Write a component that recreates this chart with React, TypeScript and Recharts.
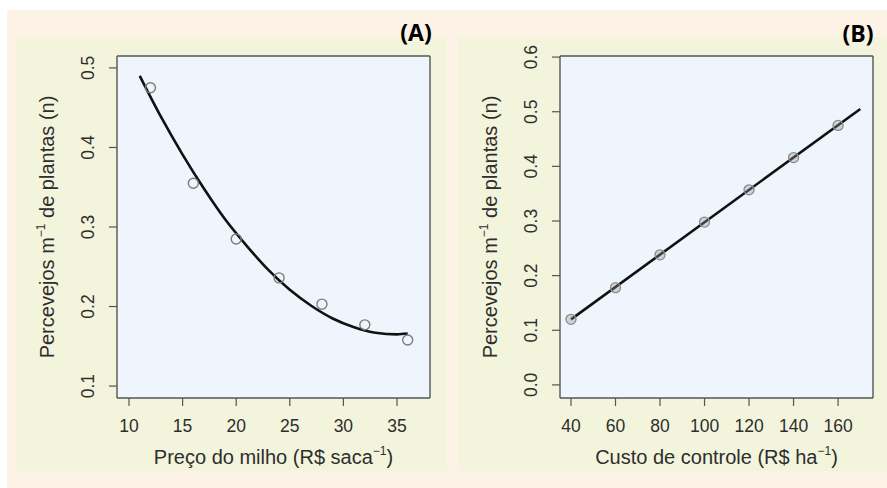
import React from "react";
import {
  ComposedChart,
  Line,
  Scatter,
  XAxis,
  YAxis,
  CartesianGrid,
} from "recharts";

// ---------- Panel A data ----------
const priceX = [12, 16, 20, 24, 28, 32, 36];
const priceObs = [0.475, 0.355, 0.285, 0.236, 0.203, 0.177, 0.158];
const priceFitX = [11, 13, 15, 17, 19, 21, 23, 25, 27, 29, 31, 33, 35, 36];
const priceFitY = [0.49, 0.438, 0.391, 0.348, 0.309, 0.276, 0.246, 0.221, 0.201, 0.185, 0.174, 0.167, 0.165, 0.166];
const priceTicksX = [10, 15, 20, 25, 30, 35];
const priceTicksY = [0.1, 0.2, 0.3, 0.4, 0.5];

// ---------- Panel B data ----------
const costX = [40, 60, 80, 100, 120, 140, 160];
const costObs = [0.12, 0.178, 0.238, 0.298, 0.357, 0.416, 0.475];
const costFitX = [40, 170];
const costFitY = [0.12, 0.505];
const costTicksX = [40, 60, 80, 100, 120, 140, 160];
const costTicksY = [0.0, 0.1, 0.2, 0.3, 0.4, 0.5, 0.6];

const obsA = priceX.map((x, i) => ({ x, y: priceObs[i] }));
const fitA = priceFitX.map((x, i) => ({ x, y: priceFitY[i] }));
const obsB = costX.map((x, i) => ({ x, y: costObs[i] }));
const fitB = costFitX.map((x, i) => ({ x, y: costFitY[i] }));

const FONT = "'Liberation Sans', Arial, Helvetica, sans-serif";
const TXT = "#2e2e2e";
const CH_H = 434;
const PL = 101; // plot left in chart coords
const PT = 19;
const PB = 361;

const XTick = (props: any) => (
  <text
    x={props.x}
    y={PB + 28}
    textAnchor="middle"
    dominantBaseline="central"
    fontFamily={FONT}
    fontSize={17.5}
    fill={TXT}
  >
    {String(props.payload.value)}
  </text>
);

const YTick = (props: any) => {
  const cx = PL - 29;
  return (
    <text
      x={cx}
      y={props.y}
      textAnchor="middle"
      dominantBaseline="central"
      fontFamily={FONT}
      fontSize={17.5}
      fill={TXT}
      transform={`rotate(-90 ${cx} ${props.y})`}
    >
      {Number(props.payload.value).toFixed(1)}
    </text>
  );
};

const OpenCircle = (props: any) => (
  <circle cx={props.cx} cy={props.cy} r={5} fill="none" stroke="#7c7c7c" strokeWidth={1.4} />
);
const GrayCircle = (props: any) => (
  <circle cx={props.cx} cy={props.cy} r={5} fill="rgba(150,150,150,0.35)" stroke="#8a8a8a" strokeWidth={1.3} />
);

type PanelProps = {
  left: number;
  width: number;
  xDomain: [number, number];
  yDomain: [number, number];
  xTicks: number[];
  yTicks: number[];
  obs: { x: number; y: number }[];
  fit: { x: number; y: number }[];
  smooth: boolean;
  shape: any;
};

const Panel = (p: PanelProps) => {
  const PR = 414;
  return (
    <div style={{ position: "absolute", left: p.left, top: 37, width: p.width, height: CH_H, background: "#f3f4dc" }}>
      <ComposedChart
        width={p.width}
        height={CH_H}
        margin={{ top: PT, right: p.width - PR, left: 0, bottom: 0 }}
      >
        <CartesianGrid
          fill="#eef5fc"
          fillOpacity={1}
          stroke="#555"
          strokeWidth={1.4}
          horizontalPoints={[PT, PB]}
          verticalPoints={[PL, PR]}
        />
        <XAxis
          type="number"
          dataKey="x"
          domain={p.xDomain}
          allowDataOverflow
          ticks={p.xTicks}
          tick={<XTick />}
          tickSize={8}
          tickLine={{ stroke: "#555", strokeWidth: 1.2 }}
          axisLine={false}
          height={CH_H - PB - 0}
          interval={0}
        />
        <YAxis
          type="number"
          dataKey="y"
          domain={p.yDomain}
          allowDataOverflow
          ticks={p.yTicks}
          tick={<YTick />}
          tickSize={8}
          tickLine={{ stroke: "#555", strokeWidth: 1.2 }}
          axisLine={false}
          width={PL}
          interval={0}
        />
        <Scatter data={p.obs} shape={p.shape} isAnimationActive={false} />
        <Line
          data={p.fit}
          dataKey="y"
          type={p.smooth ? "monotone" : "linear"}
          stroke="#111"
          strokeWidth={2.6}
          dot={false}
          activeDot={false}
          isAnimationActive={false}
        />
      </ComposedChart>
    </div>
  );
};

const Sup = ({ children }: { children: React.ReactNode }) => (
  <sup style={{ fontSize: "0.6em", verticalAlign: "0.75em", lineHeight: 0 }}>{children}</sup>
);

const textBase: React.CSSProperties = {
  position: "absolute",
  fontFamily: FONT,
  fontSize: 20,
  color: TXT,
  whiteSpace: "nowrap",
  lineHeight: 1,
};

export default function App() {
  return (
    <div style={{ position: "absolute", left: 0, top: 0, width: 887, height: 488, background: "#fff", overflow: "hidden" }}>
      <div style={{ position: "absolute", left: 7, top: 10, width: 880, height: 478, background: "#fcf3e6" }} />
      <Panel
        left={16}
        width={431}
        xDomain={[8.88, 38.08]}
        yDomain={[0.085, 0.515]}
        xTicks={priceTicksX}
        yTicks={priceTicksY}
        obs={obsA}
        fit={fitA}
        smooth
        shape={<OpenCircle />}
      />
      <Panel
        left={459}
        width={428}
        xDomain={[35.06, 175.7]}
        yDomain={[-0.024, 0.602]}
        xTicks={costTicksX}
        yTicks={costTicksY}
        obs={obsB}
        fit={fitB}
        smooth={false}
        shape={<GrayCircle />}
      />
      {/* Axis titles */}
      <div style={{ ...textBase, left: 47, top: 227, transform: "translate(-50%, -50%) rotate(-90deg)" }}>
        Percevejos m<Sup>−1</Sup> de plantas (n)
      </div>
      <div style={{ ...textBase, left: 273.5, top: 457, transform: "translate(-50%, -50%)" }}>
        Preço do milho (R$ saca<Sup>−1</Sup>)
      </div>
      <div style={{ ...textBase, left: 490, top: 227, transform: "translate(-50%, -50%) rotate(-90deg)" }}>
        Percevejos m<Sup>−1</Sup> de plantas (n)
      </div>
      <div style={{ ...textBase, left: 716.5, top: 457, transform: "translate(-50%, -50%)" }}>
        Custo de controle (R$ ha<Sup>−1</Sup>)
      </div>
      {/* Panel labels */}
      <div style={{ ...textBase, left: 416, top: 32, transform: "translate(-50%, -50%)", fontWeight: 700, fontSize: 23, color: "#000", fontFamily: "'Open Sans', 'Liberation Sans', sans-serif" }}>
        (A)
      </div>
      <div style={{ ...textBase, left: 858, top: 33, transform: "translate(-50%, -50%)", fontWeight: 700, fontSize: 23, color: "#000", fontFamily: "'Open Sans', 'Liberation Sans', sans-serif" }}>
        (B)
      </div>
    </div>
  );
}
